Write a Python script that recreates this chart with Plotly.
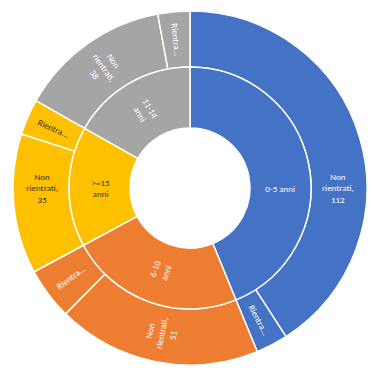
import plotly.graph_objects as go

# Inner ring: age groups
groups = ["0-5 anni", "6-10 anni", ">=15 anni", "11-14 anni"]
group_colors = ["#4472C4", "#ED7D31", "#FFC000", "#A5A5A5"]

# Outer ring: per group, "Non rientrati" and "Rientrati"
non_rientrati = [112, 51, 35, 38]
rientrati = [8, 13, 9, 8]

group_totals = [a + b for a, b in zip(non_rientrati, rientrati)]

outer_labels, outer_values, outer_colors, outer_text, outer_textcolor = [], [], [], [], []
for g, nr, r, c in zip(groups, non_rientrati, rientrati, group_colors):
    tc = "#333333" if c == "#FFC000" else "white"
    outer_labels += [g + " - Non rientrati", g + " - Rientrati"]
    outer_values += [nr, r]
    outer_colors += [c, c]
    outer_text += ["Non<br>rientrati,<br>%d" % nr, "Rientra..."]
    outer_textcolor += [tc, tc]

inner_text = ["0-5 anni", "6-10<br>anni", ">=15<br>anni", "11-14<br>anni"]
inner_textcolor = ["white", "white", "#333333", "white"]

W, H = 372, 371
cx, cy = 190, 188
r_out, r_mid, r_in = 177, 121, 60

def dom(r):
    return dict(x=[(cx - r) / W, (cx + r) / W], y=[1 - (cy + r) / H, 1 - (cy - r) / H])

fig = go.Figure()
fig.add_trace(go.Pie(
    labels=outer_labels, values=outer_values, text=outer_text,
    textinfo="text", sort=False, direction="clockwise", rotation=0,
    hole=r_mid / r_out, domain=dom(r_out),
    marker=dict(colors=outer_colors, line=dict(color="white", width=1.5)),
    textfont=dict(family="Calibri, Carlito, Liberation Sans, sans-serif", size=9, color=outer_textcolor),
    insidetextorientation="radial", textposition="inside", showlegend=False,
))
fig.add_trace(go.Pie(
    labels=groups, values=group_totals, text=inner_text,
    textinfo="text", sort=False, direction="clockwise", rotation=0,
    hole=r_in / r_mid, domain=dom(r_mid),
    marker=dict(colors=group_colors, line=dict(color="white", width=1.5)),
    textfont=dict(family="Calibri, Carlito, Liberation Sans, sans-serif", size=9, color=inner_textcolor),
    insidetextorientation="radial", textposition="inside", showlegend=False,
))
fig.update_layout(
    width=W, height=H, margin=dict(l=0, r=0, t=0, b=0),
    paper_bgcolor="white", plot_bgcolor="white", showlegend=False,
)
fig.write_html("out.html")
